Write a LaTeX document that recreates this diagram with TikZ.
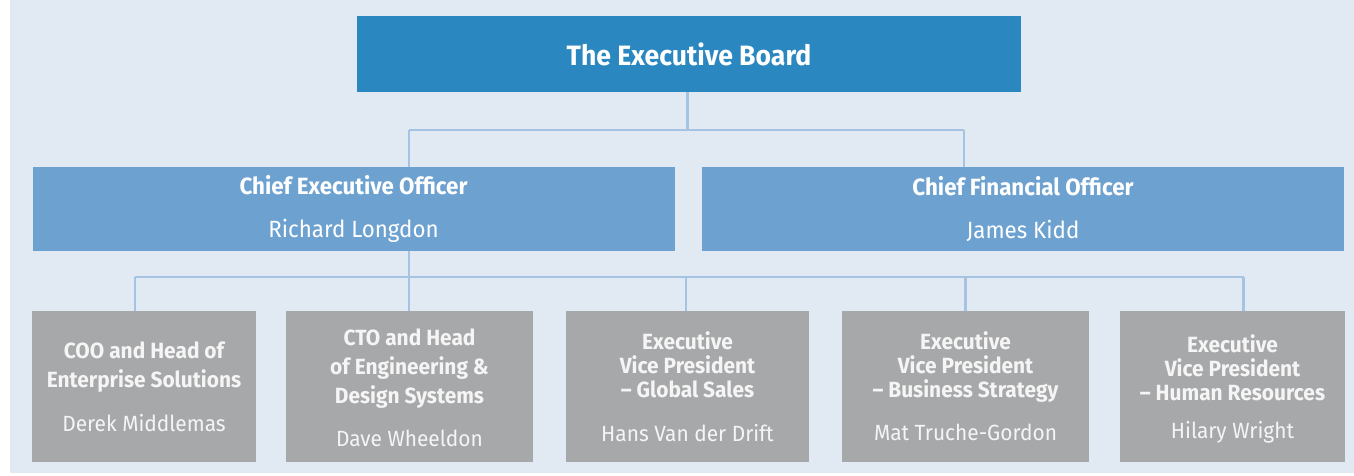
\documentclass[tikz,border=0pt]{standalone}
\usepackage{fontspec}
\setmainfont[FakeStretch=0.95]{Fira Sans}
% invisible strut that pushes a box's text block downwards
\newcommand\headroom[1]{\rule{0pt}{#1}}
\begin{document}
\definecolor{pagebg}{HTML}{E1E9F3}
\definecolor{boardblue}{HTML}{2A87C0}
\definecolor{officeblue}{HTML}{6CA1D0}
\definecolor{staffgrey}{HTML}{A7A8AA}
\definecolor{linkblue}{HTML}{A5C3E2}
\begin{tikzpicture}[x=1pt,y=1pt,
  boardbox/.style={fill=boardblue,text=white,inner sep=0pt,
    minimum width=664,minimum height=76,
    font=\fontsize{28}{32}\selectfont\bfseries},
  officebox/.style={fill=officeblue,text=white,inner sep=0pt,align=center,
    minimum width=642,minimum height=84,
    font=\fontsize{23.5}{27}\selectfont\bfseries},
  staffbox/.style={fill=staffgrey,text=white!96!black,inner sep=0pt,align=center,
    minimum height=151,font=\fontsize{22}{29}\selectfont\bfseries},
  tightstaff/.style={staffbox,font=\fontsize{22}{24}\selectfont\bfseries},
  link/.style={draw=linkblue,line width=2.6pt}]
  % page background
  \useasboundingbox (0,0) rectangle (1354,475);
  \fill[pagebg] (10,2) rectangle (1354,475);

  % top level
  \node[boardbox] (board) at (689,421) {The Executive Board};

  % officers
  \node[officebox] (ceo) at (353.5,266)
    {Chief Executive Officer\\[16pt]{\mdseries Richard Longdon}};
  \node[officebox] (cfo) at (1023,266)
    {Chief Financial Officer\\[16pt]{\mdseries James Kidd}};

  % staff
  \node[staffbox,minimum width=224] (coo) at (144,88.5)
    {\headroom{18pt}COO and Head of\\Enterprise Solutions\\[15pt]{\mdseries Derek Middlemas}};
  \node[staffbox,minimum width=247] (cto) at (409.5,88.5)
    {\headroom{20pt}CTO and Head\\of Engineering \&\\Design Systems\\[14pt]{\mdseries Dave Wheeldon}};
  \node[tightstaff,minimum width=243] (sales) at (687.5,88.5)
    {Executive\\Vice President\\– Global Sales\\[20pt]{\mdseries Hans Van der Drift}};
  \node[tightstaff,minimum width=247] (strategy) at (965.5,88.5)
    {Executive\\Vice President\\– Business Strategy\\[19pt]{\mdseries Mat Truche-Gordon}};
  \node[tightstaff,minimum width=225] (hr) at (1232.5,88.5)
    {\headroom{22pt}Executive\\Vice President\\– Human Resources\\[14pt]{\mdseries Hilary Wright}};

  % bus lines
  \coordinate (topbus) at (687.5,345);
  \coordinate (ceodrop) at (409,345);
  \coordinate (cfodrop) at (964,345);
  \coordinate (ceobus) at (409,198);
  \coordinate (d1) at (135,198);
  \coordinate (d2) at (409,198);
  \coordinate (d3) at (686,198);
  \coordinate (d4) at (965.5,198);
  \coordinate (d5) at (1243.5,198);

  \draw[link] (board.south -| topbus) -- (topbus);
  \draw[link] (ceodrop) -- (cfodrop);
  \draw[link] (ceodrop) -- (ceodrop |- ceo.north);
  \draw[link] (cfodrop) -- (cfodrop |- cfo.north);
  \draw[link] (ceo.south -| ceobus) -- (ceobus);
  \draw[link] (d1) -- (d5);
  \draw[link] (d1) -- (d1 |- coo.north);
  \draw[link] (d2) -- (d2 |- cto.north);
  \draw[link] (d3) -- (d3 |- sales.north);
  \draw[link] (d4) -- (d4 |- strategy.north);
  \draw[link] (d5) -- (d5 |- hr.north);
\end{tikzpicture}
\end{document}
